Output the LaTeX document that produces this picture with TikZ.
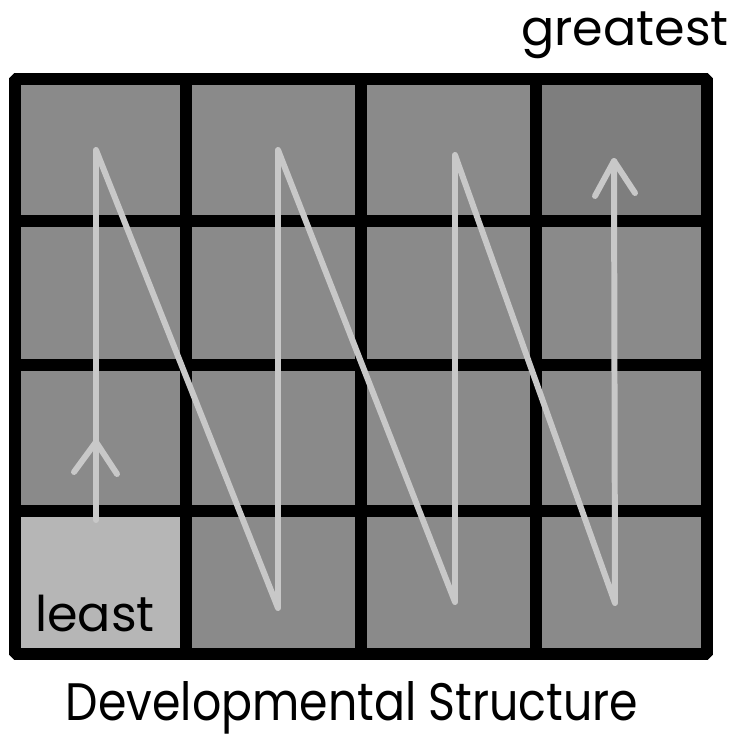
\documentclass[tikz,border=0pt]{standalone}
\usepackage{fontspec}
\setmainfont{Poppins}
\newfontfamily\captionfont[FakeStretch=0.87]{Poppins}

\definecolor{cellgray}{RGB}{138,138,138}
\definecolor{leastgray}{RGB}{182,182,182}
\definecolor{topgray}{RGB}{126,126,126}
\definecolor{zigzag}{RGB}{200,200,200}

\tikzset{
    gridline/.style={line width=6.8pt, black},
    zigline/.style={line width=3.4pt, zigzag, line join=round, line cap=round},
    lbl/.style={inner sep=0pt, font=\fontsize{28}{33}\selectfont},
    caption/.style={inner sep=0pt, font=\captionfont\fontsize{30}{36}\selectfont}
}

\begin{document}
\begin{tikzpicture}[x=0.02cm, y=-0.02cm]
    \useasboundingbox (0,0) rectangle (733,740);
    % cells
    \fill[cellgray] (15,79) rectangle (707,654);
    \fill[leastgray] (15,511) rectangle (186,654);
    \fill[topgray] (536,79) rectangle (707,221);
    % grid
    \foreach \x in {186,361,536}
        \draw[gridline] (\x,79) -- (\x,654);
    \foreach \y in {221,365,511}
        \draw[gridline] (15,\y) -- (707,\y);
    \draw[gridline, rounded corners=1pt] (15,79) rectangle (707,654);

    % zigzag path
    \coordinate (start) at (96,520);
    \coordinate (peakA) at (96,150);
    \coordinate (dipA) at (278,608);
    \coordinate (peakB) at (278,150);
    \coordinate (dipB) at (455,602);
    \coordinate (peakC) at (455,155);
    \coordinate (dipC) at (615,603);
    \coordinate (finish) at (614,161);
    \draw[zigline] (start) -- (peakA) -- (dipA) -- (peakB) -- (dipB) -- (peakC) -- (dipC) -- (finish);

    % arrow heads
    \coordinate (tipA) at (96,442);
    \coordinate (tipAl) at (74,472);
    \coordinate (tipAr) at (117,474);
    \draw[zigline] (tipAl) -- (tipA) -- (tipAr);
    \coordinate (tipBl) at (595,196);
    \coordinate (tipBr) at (635,193);
    \draw[zigline] (tipBl) -- (finish) -- (tipBr);

    % labels
    \node[lbl, anchor=base east] (greatest) at (729,46) {greatest};
    \node[lbl, anchor=base west] (least) at (35,631) {least};
    \node[caption, anchor=base] (title) at (352,720) {Developmental Structure};
\end{tikzpicture}
\end{document}
